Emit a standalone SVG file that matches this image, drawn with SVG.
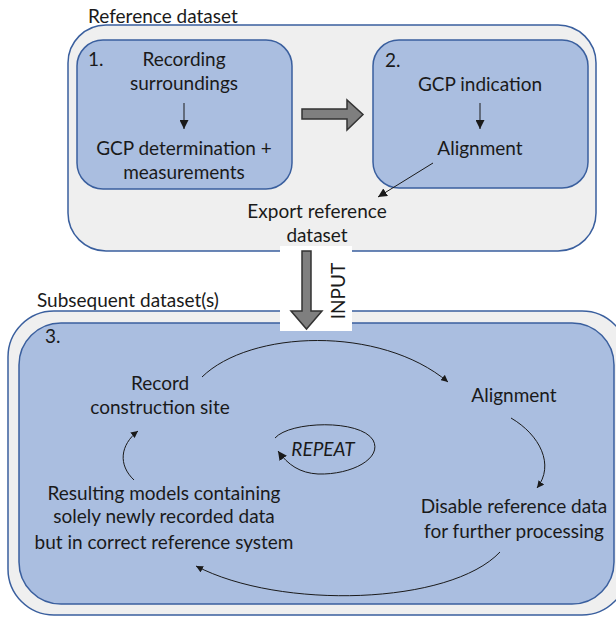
<svg xmlns="http://www.w3.org/2000/svg" width="616" height="617" viewBox="0 0 616 617">
  <style>
    text { font-family: Lato, "Liberation Sans", sans-serif; font-size: 19px; fill: #1a1a1a; }
    .c { text-anchor: middle; }
    .outer { fill: #efefef; stroke: #3a5f9e; stroke-width: 1.5; }
    .inner { fill: #aabee0; stroke: #3a5f9e; stroke-width: 1.5; }
    .big { fill: #7f7f7f; stroke: #333333; stroke-width: 1.5; stroke-linejoin: miter; }
    .thin { fill: none; stroke: #1a1a1a; stroke-width: 1; }
    .cyc { fill: none; stroke: #1a1a1a; stroke-width: 1; marker-end: url(#tip); }
  </style>
  <defs>
    <marker id="tip" viewBox="0 0 10 10" refX="10" refY="5" markerWidth="7" markerHeight="7" markerUnits="userSpaceOnUse" orient="auto">
      <path d="M0,0 L10,5 L0,10 z" fill="#1a1a1a"/>
    </marker>
    <marker id="tipL" viewBox="0 0 10 10" refX="10" refY="5" markerWidth="9" markerHeight="9" markerUnits="userSpaceOnUse" orient="auto">
      <path d="M0,0 L10,5 L0,10 z" fill="#1a1a1a"/>
    </marker>
  </defs>

  <!-- Reference dataset container -->
  <g id="reference-dataset">
    <rect class="outer" x="68" y="25" width="528" height="226" rx="38"/>
    <text x="88" y="23">Reference dataset</text>
  </g>

  <!-- Step 1 -->
  <g id="step1">
    <rect class="inner" x="77" y="40" width="215" height="149" rx="26"/>
    <text x="88" y="66">1.</text>
    <text class="c" x="184" y="66">Recording</text>
    <text class="c" x="184" y="90">surroundings</text>
    <text class="c" x="184" y="155">GCP determination +</text>
    <text class="c" x="184" y="179">measurements</text>
  </g>

  <!-- Step 2 -->
  <g id="step2">
    <rect class="inner" x="373" y="40" width="215" height="148" rx="26"/>
    <text x="385" y="67">2.</text>
    <text class="c" x="480" y="91">GCP indication</text>
    <text class="c" x="480" y="155">Alignment</text>
  </g>

  <!-- Subsequent datasets container and step 3 -->
  <g id="subsequent-dataset">
    <rect class="outer" x="8" y="311" width="620" height="304" rx="46"/>
    <rect class="inner" x="19" y="323" width="595" height="281" rx="42"/>
    <text x="37" y="307">Subsequent dataset(s)</text>
    <text x="45" y="343">3.</text>
  </g>

  <!-- Export label sits on a white patch together with the input arrow -->
  <g id="export">
    <rect x="280" y="246" width="72" height="85" fill="#ffffff"/>
    <text class="c" x="317" y="218">Export reference</text>
    <text class="c" x="317" y="242">dataset</text>
  </g>

  <g id="record"><text class="c" x="160" y="390">Record</text><text class="c" x="160" y="414">construction site</text></g>
  <g id="alignment"><text class="c" x="514" y="402">Alignment</text></g>
  <g id="disable"><text class="c" x="514" y="513">Disable reference data</text><text class="c" x="514" y="538">for further processing</text></g>
  <g id="results">
    <text class="c" x="164" y="500">Resulting models containing</text>
    <text class="c" x="164" y="523">solely newly recorded data</text>
    <text class="c" x="164" y="549">but in correct reference system</text>
  </g>
  <g id="repeat"><text class="c" x="323" y="456" font-style="italic">REPEAT</text></g>

  <!-- Connectors -->
  <g id="connectors">
    <polygon class="big" points="302,109 347,109 347,100 363,114.5 347,130 347,119 302,119"/>
    <polygon class="big" points="302,251 311,251 311,311 322,311 306.5,329 291,311 302,311"/>
    <text x="339" y="291" transform="rotate(-90 339 291)" class="c" dy="6">INPUT</text>
    <path class="thin" d="M184,103 L184,129" marker-end="url(#tipL)"/>
    <path class="thin" d="M480,103 L480,129" marker-end="url(#tipL)"/>
    <path class="thin" d="M433,163 L378,197" marker-end="url(#tipL)"/>
    <path class="cyc" d="M202,377 C250,330 380,325 448,382"/>
    <path class="cyc" d="M511,418 C540,435 555,465 537,488"/>
    <path class="cyc" d="M500,552 C450,605 280,610 196,566"/>
    <path class="cyc" d="M134,480 C118,465 120,445 138,431"/>
    <path class="thin" d="M275,438 C290,421 360,419 373,440 C383,458 352,475 318,474 C300,473 288,465 278,451" stroke-width="1.3" marker-end="url(#tipL)"/>
  </g>
</svg>
